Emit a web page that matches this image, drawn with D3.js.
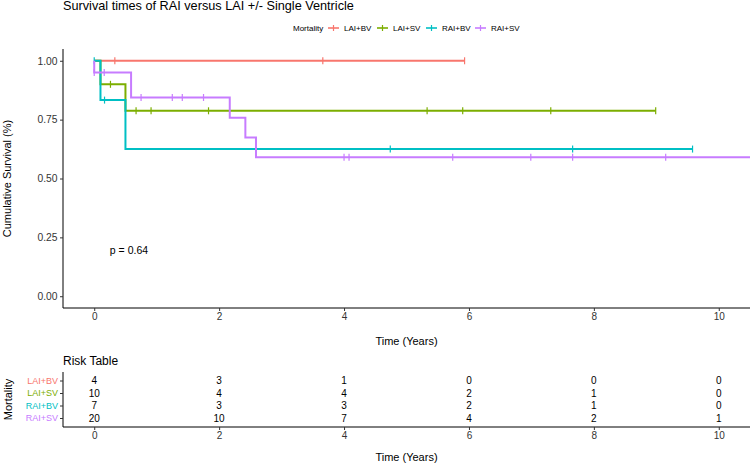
<!DOCTYPE html>
<html>
<head>
<meta charset="utf-8">
<script src="https://cdn.jsdelivr.net/npm/d3@7"></script>
<style>
  body { margin: 0; background: #fff; }
  svg { font-family: "Liberation Sans", Arial, sans-serif; }
</style>
</head>
<body>
<div id="chart"></div>
<script>
// Data
const groups = ["LAI+BV", "LAI+SV", "RAI+BV", "RAI+SV"];
const colors = ["#F8766D", "#7CAE00", "#00BFC4", "#C77CFF"];

const laiBvTime = [0, 5.93];
const laiBvSurv = [1, 1];
const laiBvCens = [0.33, 3.66, 5.93];

const laiSvTime = [0, 0.1, 0.5, 8.99];
const laiSvSurv = [1, 0.9, 0.7875, 0.7875];
const laiSvCens = [0.26, 0.67, 0.91, 1.83, 5.33, 5.9, 7.31, 8.99];

const raiBvTime = [0, 0.1, 0.5, 9.58];
const raiBvSurv = [1, 0.833, 0.625, 0.625];
const raiBvCens = [0, 0.165, 4.74, 7.66, 9.58];

const raiSvTime = [0, 0, 0.59, 2.17, 2.42, 2.59, 10.6];
const raiSvSurv = [1, 0.95, 0.844, 0.758, 0.674, 0.59, 0.59];
const raiSvCens = [0, 0.16, 0.75, 1.25, 1.41, 1.75, 4.0, 4.08, 5.74, 6.99, 7.66, 9.15];

const riskTimes = [0, 2, 4, 6, 8, 10];
const riskLaiBv = [4, 3, 1, 0, 0, 0];
const riskLaiSv = [10, 4, 4, 2, 1, 0];
const riskRaiBv = [7, 3, 3, 2, 1, 0];
const riskRaiSv = [20, 10, 7, 4, 2, 1];

const yTicks = [0, 0.25, 0.5, 0.75, 1];
const pText = "p = 0.64";

const series = [
  { time: laiBvTime, surv: laiBvSurv, cens: laiBvCens, risk: riskLaiBv },
  { time: laiSvTime, surv: laiSvSurv, cens: laiSvCens, risk: riskLaiSv },
  { time: raiBvTime, surv: raiBvSurv, cens: raiBvCens, risk: riskRaiBv },
  { time: raiSvTime, surv: raiSvSurv, cens: raiSvCens, risk: riskRaiSv }
];

// Layout
const W = 750, H = 465;
const left = 63, right = 750;
const plotTop = 49, plotBottom = 308;

const svg = d3.select("#chart").append("svg")
  .attr("width", W).attr("height", H);

const x = d3.scaleLinear().domain([-0.5, 10.5]).range([left, right]);
const y = d3.scaleLinear().domain([-0.05, 1.05]).range([plotBottom, plotTop]);

// title
svg.append("text").attr("x", left).attr("y", 10)
  .attr("font-size", 12.7).attr("fill", "#000")
  .text("Survival times of RAI versus LAI +/- Single Ventricle");

// legend
const leg = svg.append("g").attr("font-size", 8);
leg.append("text").attr("x", 293).attr("y", 31).text("Mortality");
const legKeyX = [333.5, 382.5, 431.5, 480.5];
groups.forEach((g, i) => {
  const gg = leg.append("g");
  gg.append("line").attr("x1", legKeyX[i] - 5.5).attr("x2", legKeyX[i] + 5.5)
    .attr("y1", 28).attr("y2", 28).attr("stroke", colors[i]).attr("stroke-width", 1.6);
  gg.append("line").attr("x1", legKeyX[i]).attr("x2", legKeyX[i])
    .attr("y1", 25).attr("y2", 31).attr("stroke", colors[i]).attr("stroke-width", 1.2);
  gg.append("text").attr("x", legKeyX[i] + 10.5).attr("y", 31).text(g);
});

// clip for curves
svg.append("clipPath").attr("id", "clip").append("rect")
  .attr("x", left).attr("y", plotTop - 5).attr("width", right - left).attr("height", plotBottom - plotTop + 5);

const line = d3.line().curve(d3.curveStepAfter)
  .x(d => x(d[0])).y(d => y(d[1]));

const survAt = (s, t) => {
  let v = s.surv[0];
  s.time.forEach((tt, i) => { if (tt <= t) v = s.surv[i]; });
  return v;
};

const curves = svg.append("g").attr("clip-path", "url(#clip)");
series.forEach((s, i) => {
  const pts = s.time.map((t, j) => [t, s.surv[j]]);
  curves.append("path").attr("d", line(pts))
    .attr("fill", "none").attr("stroke", colors[i]).attr("stroke-width", 2);
  curves.selectAll(null).data(s.cens).enter().append("line")
    .attr("x1", d => x(d)).attr("x2", d => x(d))
    .attr("y1", d => y(survAt(s, d)) - 3.5).attr("y2", d => y(survAt(s, d)) + 3.5)
    .attr("stroke", colors[i]).attr("stroke-width", 1.2);
});

// axes
const styleAxis = (g, fs) => {
  g.select(".domain").attr("stroke", "#000").attr("stroke-width", 1);
  g.selectAll(".tick line").attr("stroke", "#333");
  g.selectAll("text").attr("font-size", fs).attr("fill", "#333")
    .attr("font-family", "Liberation Sans, Arial, sans-serif");
};
const xAxis = d3.axisBottom(x).tickValues(riskTimes).tickSize(3).tickPadding(2);
const gx = svg.append("g").attr("transform", `translate(0,${plotBottom})`).call(xAxis);
const yAxis = d3.axisLeft(y).tickValues(yTicks).tickFormat(d3.format(".2f")).tickSize(3).tickPadding(2.5);
const gy = svg.append("g").attr("transform", `translate(${left},0)`).call(yAxis);
styleAxis(gx, 10); styleAxis(gy, 10.3);
gx.select(".domain").attr("d", `M${left},0H${right}`);
gy.select(".domain").attr("d", `M0,${plotBottom}V${plotTop}`);

svg.append("text").attr("x", (left + right) / 2).attr("y", 345)
  .attr("text-anchor", "middle").attr("font-size", 11).text("Time (Years)");
svg.append("text").attr("transform", `translate(11,${(plotTop + plotBottom) / 2}) rotate(-90)`)
  .attr("text-anchor", "middle").attr("font-size", 11).text("Cumulative Survival (%)");

svg.append("text").attr("x", x(0.25)).attr("y", 254).attr("font-size", 10.5).text(pText);

// risk table
const tTop = 372, tBottom = 427;
svg.append("text").attr("x", left).attr("y", 365).attr("font-size", 12).text("Risk Table");

const yr = d3.scalePoint().domain(groups).range([380.5, 418]);
const tx = d3.axisBottom(x).tickValues(riskTimes).tickSize(3).tickPadding(2);
const gtx = svg.append("g").attr("transform", `translate(0,${tBottom})`).call(tx);
const ty = d3.axisLeft(yr).tickSize(3).tickPadding(2);
const gty = svg.append("g").attr("transform", `translate(${left},0)`).call(ty);
styleAxis(gtx, 10); styleAxis(gty, 9);
gtx.select(".domain").attr("d", `M${left},0H${right}`);
gty.select(".domain").attr("d", `M0,${tBottom}V${tTop}`);
gty.selectAll(".tick text").attr("fill", (d, i) => colors[i]);

series.forEach((s, i) => {
  svg.selectAll(null).data(s.risk).enter().append("text")
    .attr("x", (d, j) => x(riskTimes[j])).attr("y", yr(groups[i]) + 3.5)
    .attr("text-anchor", "middle").attr("font-size", 10).attr("fill", "#000")
    .text(d => d);
});

svg.append("text").attr("x", (left + right) / 2).attr("y", 461)
  .attr("text-anchor", "middle").attr("font-size", 11).text("Time (Years)");
svg.append("text").attr("transform", `translate(12,${(tTop + tBottom) / 2}) rotate(-90)`)
  .attr("text-anchor", "middle").attr("font-size", 11).text("Mortality");
</script>
</body>
</html>
